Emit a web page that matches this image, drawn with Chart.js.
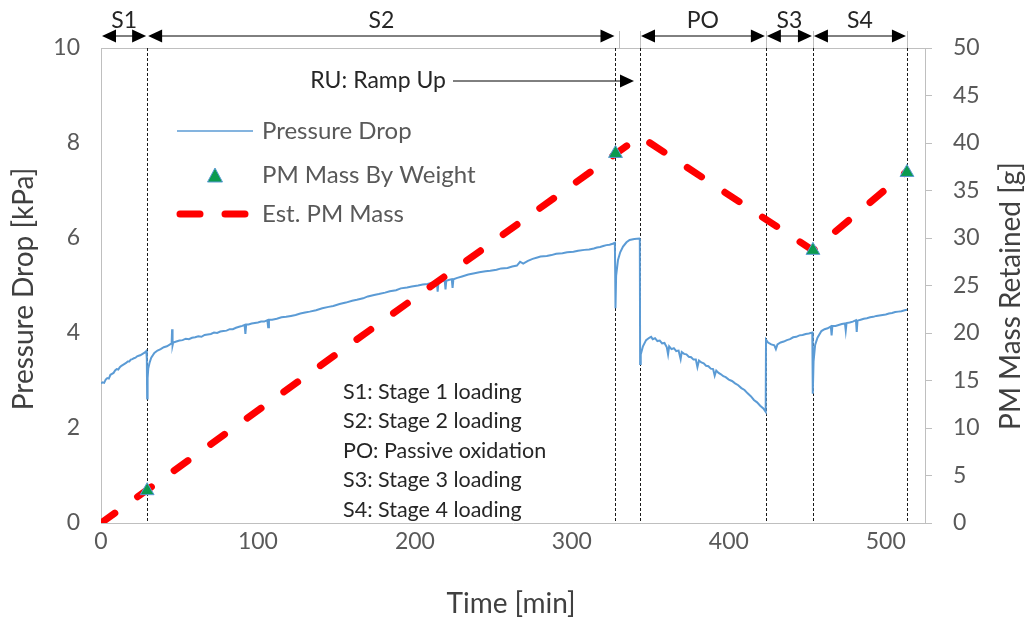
<!DOCTYPE html>
<html>
<head>
<meta charset="utf-8">
<script src="https://cdn.jsdelivr.net/npm/chart.js@4.4.1/dist/chart.umd.min.js"></script>
<style>
html, body { margin: 0; padding: 0; background: #fff; }
</style>
</head>
<body>
<canvas id="grafico" width="1026" height="619"></canvas>
<script>
// Caída de presión (kPa), por etapa
const tiempoS1 = [0, 1, 2, 3, 4, 5, 6, 7, 8, 9, 10, 11, 12, 13, 14, 15, 16, 17, 18, 19, 20, 21, 22, 23, 24, 25, 26, 27, 28, 28.9, 29.2];
const presionS1 = [2.94, 2.96, 2.95, 3.02, 3.05, 3.04, 3.12, 3.14, 3.16, 3.21, 3.24, 3.23, 3.28, 3.31, 3.33, 3.35, 3.37, 3.40, 3.40, 3.44, 3.45, 3.47, 3.48, 3.51, 3.52, 3.53, 3.55, 3.57, 3.59, 3.62, 3.45];

const tiempoS2 = [29.4, 29.7, 30.1, 30.9, 32, 34, 36, 38, 40, 42, 44, 45, 45.3, 45.6, 46, 48, 50, 52, 54, 56, 58, 60, 62, 64, 66, 68, 70, 72, 74, 76, 78, 80,
  82, 84, 86, 88, 90, 91.5, 92, 92.5, 94, 96, 98, 100, 102, 104, 106, 106.5, 107, 109, 112, 115, 118, 121, 124, 127, 130, 133, 137, 141, 145, 148, 152,
  156, 160, 163, 167, 170, 174, 177, 181, 184, 188, 191, 195, 198, 202, 205, 208, 211, 214, 214.5, 215, 217, 219, 219.5, 220, 222, 223.5, 224, 224.5,
  227, 230, 234, 238, 241, 245, 248, 252, 255, 259, 262, 265, 267, 269, 272, 275, 278, 280, 284, 287, 290, 294, 297, 301, 304, 308, 311, 314, 316, 318,
  320, 322, 324, 326, 327.4, 327.6];
const presionS2 = [2.62, 3.05, 3.25, 3.37, 3.48, 3.58, 3.63, 3.66, 3.70, 3.72, 3.76, 3.78, 4.08, 3.74, 3.80, 3.82, 3.84, 3.85, 3.88, 3.87, 3.90, 3.91, 3.93, 3.92, 3.96, 3.97, 3.98, 4.01, 4.00, 4.03, 4.04, 4.05,
  4.08, 4.08, 4.11, 4.13, 4.15, 4.17, 3.98, 4.18, 4.18, 4.20, 4.21, 4.22, 4.24, 4.24, 4.27, 4.12, 4.28, 4.28, 4.30, 4.33, 4.34, 4.36, 4.38, 4.41, 4.43, 4.45, 4.48, 4.52, 4.55, 4.57, 4.61,
  4.64, 4.68, 4.70, 4.73, 4.77, 4.80, 4.82, 4.85, 4.88, 4.90, 4.94, 4.96, 4.98, 5.00, 5.02, 5.03, 5.06, 5.07, 4.87, 5.08, 5.09, 5.10, 4.92, 5.10, 5.12, 5.13, 4.95, 5.13,
  5.16, 5.19, 5.23, 5.26, 5.28, 5.30, 5.31, 5.33, 5.36, 5.37, 5.40, 5.42, 5.50, 5.46, 5.52, 5.56, 5.59, 5.61, 5.62, 5.64, 5.67, 5.68, 5.70, 5.71, 5.73, 5.75, 5.76, 5.78, 5.80, 5.81,
  5.83, 5.85, 5.86, 5.88, 5.90, 5.30];

const tiempoRU = [327.8, 328.2, 329.4, 330.8, 332.6, 334.8, 336.8, 339.8, 343, 343.3];
const presionRU = [4.52, 5.20, 5.54, 5.70, 5.82, 5.91, 5.96, 5.98, 5.99, 5.98];

const tiempoPO = [343.5, 343.9, 345.3, 347.3, 349.3, 350.5, 351.5, 353, 354.5, 356, 357.5, 359, 360.5, 361.3, 362, 363.5, 365, 366.5, 368, 369.3, 370, 371.5,
  373, 374.5, 376, 377.5, 379, 380, 381, 382.5, 384, 385.5, 387, 388.5, 390, 391, 392, 393.5, 395, 396.5, 398, 400, 402, 404, 406, 408, 410, 412, 414,
  416, 418, 420, 422, 423.5];
const presionPO = [3.35, 3.55, 3.72, 3.85, 3.90, 3.92, 3.87, 3.89, 3.83, 3.84, 3.78, 3.79, 3.70, 3.55, 3.72, 3.66, 3.68, 3.62, 3.63, 3.45, 3.60, 3.56,
  3.55, 3.50, 3.49, 3.44, 3.44, 3.28, 3.42, 3.38, 3.36, 3.31, 3.30, 3.25, 3.24, 3.10, 3.21, 3.16, 3.13, 3.09, 3.07, 3.02, 2.99, 2.94, 2.90, 2.84, 2.80, 2.73, 2.67,
  2.59, 2.54, 2.47, 2.41, 2.34];

const tiempoS3 = [423.7, 425, 427, 429, 430, 431, 433, 435, 437, 439, 441, 443, 445, 447, 449, 451, 453.2, 453.4];
const presionS3 = [3.86, 3.80, 3.76, 3.74, 3.66, 3.76, 3.80, 3.82, 3.85, 3.87, 3.91, 3.92, 3.95, 3.96, 3.98, 3.99, 4.01, 3.90];

const tiempoS4 = [453.6, 454, 455, 456.5, 459, 461, 463, 465, 465.5, 466, 468, 470, 472, 474, 474.5, 475, 477, 479, 481, 481.5, 482, 484, 486, 488,
  490, 492, 494, 496, 498, 500, 502, 504, 506, 508, 510, 512, 513.5];
const presionS4 = [2.72, 3.40, 3.75, 3.90, 4.04, 4.08, 4.10, 4.14, 3.95, 4.15, 4.15, 4.17, 4.19, 4.20, 4.05, 4.21, 4.22, 4.24, 4.27, 4.02, 4.26, 4.28, 4.30, 4.31,
  4.33, 4.34, 4.36, 4.37, 4.38, 4.39, 4.41, 4.42, 4.44, 4.45, 4.46, 4.48, 4.49];

// Masa de PM pesada (g)
const tiempoPeso = [29.4, 327.8, 453.6, 513.5];
const masaPeso = [3.4, 38.9, 28.7, 36.9];

// Masa de PM estimada (g)
const tiempoEstimada = [0, 343.4, 453.6, 513.5];
const masaEstimada = [0, 40.7, 28.7, 37.0];

// Límites de etapas (min)
const limitesEtapas = [0, 29.4, 327.8, 343.4, 423.6, 453.6, 513.5];
const nombresEtapas = ['S1', 'S2', '', 'PO', 'S3', 'S4'];

const notasEtapas = ['S1: Stage 1 loading', 'S2: Stage 2 loading', 'PO: Passive oxidation', 'S3: Stage 3 loading', 'S4: Stage 4 loading'];
const ticksX = [0, 100, 200, 300, 400, 500];

const tiempoPresion = [].concat(tiempoS1, tiempoS2, tiempoRU, tiempoPO, tiempoS3, tiempoS4);
const presionKpa = [].concat(presionS1, presionS2, presionRU, presionPO, presionS3, presionS4);

const FUENTE = 'Lato, "Open Sans", sans-serif';

const puntos = (xs, ys) => xs.map((x, i) => ({ x: x, y: ys[i] }));

function flecha(ctx, x, y, dir) {
    ctx.beginPath();
    ctx.moveTo(x, y);
    ctx.lineTo(x - dir * 14, y - 6.5);
    ctx.lineTo(x - dir * 14, y + 6.5);
    ctx.closePath();
    ctx.fill();
}

const anotaciones = {
    id: 'anotaciones',
    beforeDatasetsDraw(chart) {
        const ctx = chart.ctx;
        const { top, bottom, left, right } = chart.chartArea;
        const px = v => chart.scales.x.getPixelForValue(v);
        ctx.save();
        // borde superior
        ctx.strokeStyle = '#bfbfbf';
        ctx.lineWidth = 1;
        ctx.beginPath();
        ctx.moveTo(left, top + 0.5);
        ctx.lineTo(right, top + 0.5);
        ctx.stroke();
        // líneas punteadas verticales
        ctx.strokeStyle = '#1a1a1a';
        ctx.setLineDash([3, 2]);
        for (let i = 1; i < limitesEtapas.length; i++) {
            const x = Math.round(px(limitesEtapas[i])) + 0.5;
            ctx.beginPath();
            ctx.moveTo(x, top);
            ctx.lineTo(x, bottom);
            ctx.stroke();
        }
        ctx.restore();
    },
    afterDraw(chart) {
        const ctx = chart.ctx;
        const { top, left, right } = chart.chartArea;
        const px = v => chart.scales.x.getPixelForValue(v);
        ctx.save();

        // flechas de etapas
        const yF = 36;
        ctx.fillStyle = '#000';
        ctx.strokeStyle = '#000';
        ctx.lineWidth = 1;
        ctx.font = '23px ' + FUENTE;
        ctx.textAlign = 'center';
        ctx.textBaseline = 'middle';
        for (let i = 0; i < nombresEtapas.length; i++) {
            if (!nombresEtapas[i]) continue;
            const a = px(limitesEtapas[i]) + 1, b = px(limitesEtapas[i + 1]) - 1;
            ctx.beginPath();
            ctx.moveTo(a + 6, yF);
            ctx.lineTo(b - 6, yF);
            ctx.stroke();
            flecha(ctx, a, yF, -1);
            flecha(ctx, b, yF, 1);
            ctx.fillStyle = '#262626';
            ctx.fillText(nombresEtapas[i], (a + b) / 2, 21);
            ctx.fillStyle = '#000';
        }
        // pequeñas marcas grises encima del área
        ctx.strokeStyle = '#bfbfbf';
        [2, 3, 4, 5, 6].forEach(i => {
            const x = Math.round(px(limitesEtapas[i])) + 0.5 + (i === 2 ? 4 : 0);
            ctx.beginPath();
            ctx.moveTo(x, 31);
            ctx.lineTo(x, top);
            ctx.stroke();
        });

        // RU: Ramp Up
        ctx.fillStyle = '#262626';
        ctx.textAlign = 'right';
        ctx.fillText('RU: Ramp Up', 446, 81);
        ctx.strokeStyle = '#000';
        ctx.beginPath();
        ctx.moveTo(453, 81);
        ctx.lineTo(px(343.4) - 10, 81);
        ctx.stroke();
        ctx.fillStyle = '#000';
        flecha(ctx, px(343.4) - 6, 81, 1);

        // leyenda
        ctx.font = '24px ' + FUENTE;
        ctx.textAlign = 'left';
        ctx.fillStyle = '#595959';
        ctx.strokeStyle = '#5b9bd5';
        ctx.lineWidth = 1.5;
        ctx.beginPath();
        ctx.moveTo(177, 131);
        ctx.lineTo(253, 131);
        ctx.stroke();
        ctx.fillText('Pressure Drop', 262, 131);

        ctx.fillStyle = '#0b9a4f';
        ctx.strokeStyle = '#5b9bd5';
        ctx.lineWidth = 1;
        ctx.beginPath();
        ctx.moveTo(215, 168);
        ctx.lineTo(222.5, 182);
        ctx.lineTo(207.5, 182);
        ctx.closePath();
        ctx.fill();
        ctx.stroke();
        ctx.fillStyle = '#595959';
        ctx.fillText('PM Mass By Weight', 262, 175);

        ctx.strokeStyle = '#ff0000';
        ctx.lineWidth = 7;
        ctx.lineCap = 'round';
        ctx.beginPath();
        ctx.moveTo(180, 214); ctx.lineTo(200, 214);
        ctx.moveTo(225, 214); ctx.lineTo(245, 214);
        ctx.stroke();
        ctx.fillText('Est. PM Mass', 262, 214);

        // notas
        ctx.font = '21.5px ' + FUENTE;
        ctx.fillStyle = '#262626';
        notasEtapas.forEach((t, i) => ctx.fillText(t, 343, 392 + i * 29.5));

        // títulos de ejes
        ctx.font = '28px ' + FUENTE;
        ctx.fillStyle = '#404040';
        ctx.textAlign = 'center';
        ctx.fillText('Time [min]', (left + right) / 2 - 2, 604);
        ctx.save();
        ctx.translate(24, 289);
        ctx.rotate(-Math.PI / 2);
        ctx.fillText('Pressure Drop [kPa]', 0, 0);
        ctx.restore();
        ctx.save();
        ctx.translate(1011, 296);
        ctx.rotate(-Math.PI / 2);
        ctx.fillText('PM Mass Retained [g]', 0, 0);
        ctx.restore();

        ctx.restore();
    }
};

new Chart(document.getElementById('grafico'), {
    type: 'scatter',
    data: {
        datasets: [
            {
                label: 'Pressure Drop',
                data: puntos(tiempoPresion, presionKpa),
                showLine: true,
                borderColor: '#5b9bd5',
                borderWidth: 2,
                pointRadius: 0,
                yAxisID: 'y',
                order: 3
            },
            {
                label: 'Est. PM Mass',
                data: puntos(tiempoEstimada, masaEstimada),
                showLine: true,
                borderColor: '#ff0000',
                borderWidth: 7,
                borderDash: [17, 28],
                borderCapStyle: 'round',
                pointRadius: 0,
                yAxisID: 'y2',
                order: 2
            },
            {
                label: 'PM Mass By Weight',
                data: puntos(tiempoPeso, masaPeso),
                pointStyle: 'triangle',
                pointRadius: 8,
                backgroundColor: '#0b9a4f',
                borderColor: '#5b9bd5',
                borderWidth: 1,
                yAxisID: 'y2',
                order: 1
            }
        ]
    },
    options: {
        responsive: false,
        animation: false,
        layout: { padding: { top: 48, left: 0, right: 0, bottom: 0 } },
        plugins: { legend: { display: false }, tooltip: { enabled: false } },
        scales: {
            x: {
                type: 'linear',
                min: 0,
                max: 525,
                afterFit: s => { s.height = 96; },
                afterBuildTicks: s => { s.ticks = ticksX.map(v => ({ value: v })); },
                grid: { display: false, drawTicks: false, tickLength: 0 },
                border: { display: true, color: '#bfbfbf', width: 1 },
                ticks: { padding: 5, color: '#595959', font: { family: FUENTE, size: 23 }, maxRotation: 0 }
            },
            y: {
                position: 'left',
                min: 0,
                max: 10,
                afterFit: s => { s.width = 101; },
                grid: { display: false, drawTicks: false, tickLength: 0 },
                border: { display: true, color: '#bfbfbf', width: 1 },
                ticks: { stepSize: 2, padding: 21, color: '#595959', font: { family: FUENTE, size: 23 } }
            },
            y2: {
                position: 'right',
                min: 0,
                max: 50,
                afterFit: s => { s.width = 101; },
                grid: { drawOnChartArea: false, drawTicks: true, tickLength: 7, color: '#bfbfbf' },
                border: { display: true, color: '#bfbfbf', width: 1 },
                ticks: { stepSize: 5, padding: 21, color: '#595959', font: { family: FUENTE, size: 23 } }
            }
        }
    },
    plugins: [anotaciones]
});
</script>
</body>
</html>
